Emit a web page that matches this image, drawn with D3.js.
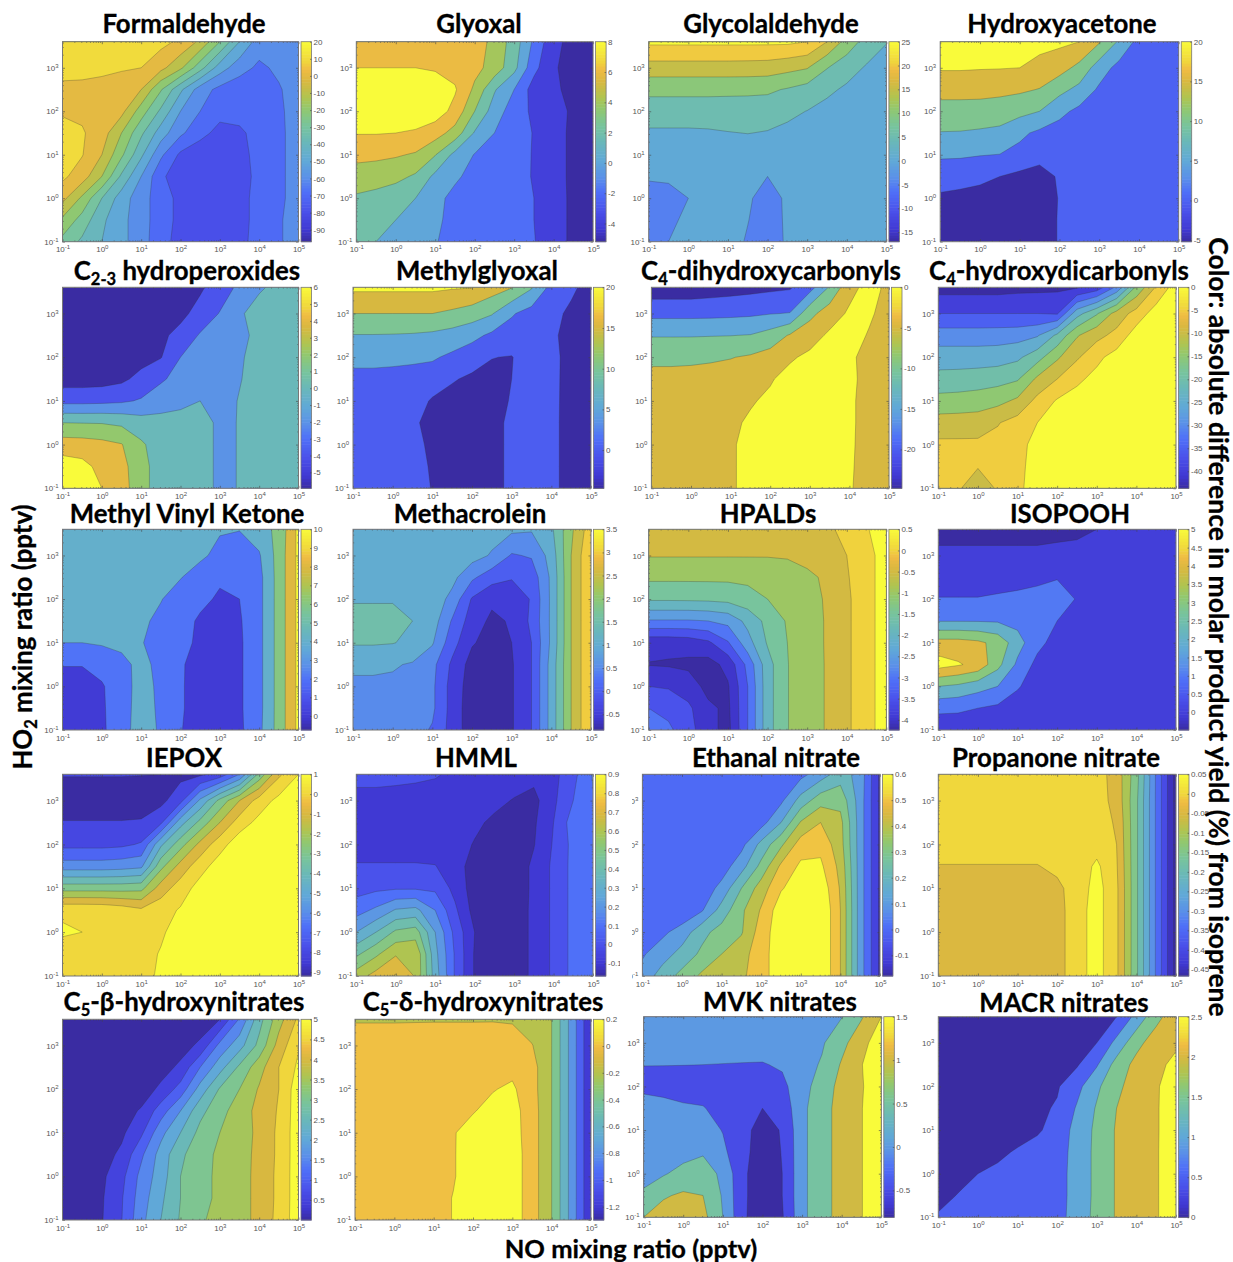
<!DOCTYPE html>
<html>
<head>
<meta charset="utf-8">
<script src="https://cdn.jsdelivr.net/npm/d3@7"></script>
<style>
  html, body { margin: 0; padding: 0; background: #fff; }
  svg { display: block; }
  text { font-family: "Liberation Sans", sans-serif; }
  .title, .big { font-family: Lato, "Open Sans", sans-serif; font-weight: 700; fill: #000; stroke: #000; stroke-width: .3; }
  .tick text { fill: #555; font-size: 8px; }
  .tick line { stroke: #444; stroke-width: .6; }
</style>
</head>
<body>
<script>
// log10 of NO (columns) and HO2 (rows, top row first) for every grid below
var noExp = [-1, -.5, 0, .5, 1, 1.5, 2, 2.5, 3, 3.5, 4, 4.5, 5];
var ho2Exp = [3.6, 3, 2.5, 2, 1.5, 1, .5, 0, -.5, -1];

var xTicks = [.1, 1, 10, 100, 1000, 10000, 100000];
var yTicks = [.1, 1, 10, 100, 1000];

var titles = ['Formaldehyde', 'Glyoxal', 'Glycolaldehyde', 'Hydroxyacetone',
  'C_{2-3} hydroperoxides', 'Methylglyoxal', 'C_{4}-dihydroxycarbonyls', 'C_{4}-hydroxydicarbonyls',
  'Methyl Vinyl Ketone', 'Methacrolein', 'HPALDs', 'ISOPOOH',
  'IEPOX', 'HMML', 'Ethanal nitrate', 'Propanone nitrate',
  'C_{5}-β-hydroxynitrates', 'C_{5}-δ-hydroxynitrates', 'MVK nitrates', 'MACR nitrates'];

// colour range of each panel
var colorMin = [-97, -5.2, -17, -5.2, -5.95, -4.7, -24.8, -43.7, -.75, -.84, -4.24, -.48, -9.2, -.167, -.18, -.467, 0, -1.3, -.81, 0];
var colorMax = [20, 8, 25, 20, 6, 20, 0, 0, 10, 3.5, .5, 5, 1, .9, .6, .05, 5, .2, 1.5, 2.5];

// contour levels of each panel
var levels = [
  [-80, -70, -60, -50, -40, -30, -20, -10, 0, 10],
  [-4, -2, 0, 2, 4, 6, 8],
  [-5, 0, 5, 10, 15, 20, 25],
  [0, 5, 10, 15, 20],
  [-4, -2, 0, 2, 4, 6],
  [0, 5, 10, 15, 20],
  [-20, -15, -10, -5, 0],
  [-40, -35, -30, -25, -20, -15, -10, -5, 0],
  [0, 2, 4, 6, 8, 10],
  [-.5, 0, .5, 1, 1.5, 2, 2.5, 3],
  [-4, -3.5, -3, -2.5, -2, -1.5, -1, -.5, 0, .5],
  [0, 1, 2, 3, 4, 5],
  [-8, -7, -6, -5, -4, -3, -2, -1, 0, 1],
  [-.1, 0, .1, .2, .3, .4, .5, .6, .7, .8],
  [-.1, 0, .1, .2, .3, .4, .5, .6],
  [-.45, -.4, -.35, -.3, -.25, -.2, -.15, -.1, -.05, 0, .05],
  [.5, 1, 1.5, 2, 2.5, 3, 3.5, 4, 4.5, 5],
  [-1.2, -1, -.8, -.6, -.4, -.2, 0, .2],
  [-.5, 0, .5, 1, 1.5],
  [.5, 1, 1.5, 2, 2.5]
];

// colorbar tick labels
var barTicks = [
  [20, 10, 0, -10, -20, -30, -40, -50, -60, -70, -80, -90],
  [8, 6, 4, 2, 0, -2, -4],
  [25, 20, 15, 10, 5, 0, -5, -10, -15],
  [20, 15, 10, 5, 0, -5],
  [6, 5, 4, 3, 2, 1, 0, -1, -2, -3, -4, -5],
  [20, 15, 10, 5, 0],
  [0, -5, -10, -15, -20],
  [0, -5, -10, -15, -20, -25, -30, -35, -40],
  [10, 9, 8, 7, 6, 5, 4, 3, 2, 1, 0],
  [3.5, 3, 2.5, 2, 1.5, 1, .5, 0, -.5],
  [.5, 0, -.5, -1, -1.5, -2, -2.5, -3, -3.5, -4],
  [5, 4.5, 4, 3.5, 3, 2.5, 2, 1.5, 1, .5, 0],
  [1, 0, -1, -2, -3, -4, -5, -6, -7, -8, -9],
  [.9, .8, .7, .6, .5, .4, .3, .2, .1, 0, -.1],
  [.6, .5, .4, .3, .2, .1, 0, -.1],
  [.05, 0, -.05, -.1, -.15, -.2, -.25, -.3, -.35, -.4, -.45],
  [5, 4.5, 4, 3.5, 3, 2.5, 2, 1.5, 1, .5],
  [.2, 0, -.2, -.4, -.6, -.8, -1, -1.2],
  [1.5, 1, .5, 0, -.5],
  [2.5, 2, 1.5, 1, .5, 0]
];

// product yield differences, one row per HO2 value, one column per NO value
var formaldehyde = [
  [16, 16, 15, 14, 13, 13, 8, -2, -20, -40, -55, -56, -55],
  [13, 12.5, 12, 11, 10, 3, -8, -26, -45, -56, -62, -58, -55],
  [8, 8, 7, 5, 0, -19, -38, -55, -63, -66, -66, -61, -55],
  [9, 8, 6, 3, -15, -32, -50, -60, -67, -68, -67, -62, -55],
  [13, 11, 5, -10, -28, -45, -58, -67, -73, -71, -68, -62, -56],
  [14, 10.5, 0, -18, -38, -58, -72, -76, -78, -72, -68, -62, -56],
  [12, 5, -10, -32, -50, -68, -76, -78, -79, -73, -68, -62, -56],
  [3, -12, -30, -45, -56, -65, -73, -77, -79, -72, -68, -62, -56],
  [-12, -24, -38, -47, -56, -65, -73, -77, -79, -72, -68, -61, -56],
  [-23, -32, -40, -47, -56, -66, -74, -77, -79, -71.5, -68, -61, -56]
];
var glyoxal = [
  [7, 7, 7, 7, 7, 7, 7, 5.4, 3.1, -.4, -3.5, -4.6, -5],
  [8, 8, 8, 8, 7.8, 7.3, 6.6, 5.2, 2.6, -1.4, -3.8, -4.7, -5],
  [9.5, 9.5, 9.5, 9.5, 9, 8.2, 5.6, 2.2, 0, -2.9, -3.7, -4.5, -5],
  [10, 10, 10, 10, 9, 7.4, 4, 1, -1, -2.4, -3.3, -4.3, -5],
  [8.1, 8.1, 8, 7.6, 6.9, 5.2, 1.8, 0, -1.1, -2.1, -3.3, -4.4, -5],
  [6.5, 6.4, 6.2, 5.8, 4.1, 1.4, -.1, -.9, -1.4, -2.1, -3.3, -4.4, -5],
  [5.2, 5, 4.6, 3.7, 1.5, .3, -.6, -1.1, -1.5, -2.1, -3.3, -4.4, -5],
  [3.7, 3.3, 2.7, 2, .5, -.5, -.9, -1.2, -1.5, -2, -3.2, -4.4, -5],
  [3, 2.6, 2, 1.2, .3, -.5, -.9, -1.2, -1.5, -2, -3.2, -4.4, -5],
  [2.8, 2, 1.5, .8, .1, -.6, -.9, -1.2, -1.5, -1.9, -3.2, -4.4, -5]
];
var glycolaldehyde = [
  [26, 26, 26, 26, 26, 26, 26, 26, 25, 20, 13, 8, 5.2],
  [17.9, 17.9, 17.9, 17.9, 17.9, 17.8, 17.6, 16.5, 15.3, 10.2, 7, 4.5, 3],
  [11, 11, 11, 11, 11, 11, 10.8, 9.6, 8, 6, 4.2, 3, 2],
  [8, 8, 8, 8, 7.8, 7.6, 7.4, 6, 4.9, 3.5, 2.7, 2.2, 2],
  [4.1, 4.1, 4.1, 4.3, 4.8, 5.1, 4.7, 4, 3.2, 2.6, 2.3, 2.1, 2],
  [2.2, 2.2, 2.2, 2.2, 2.2, 2.2, 2.2, 2.1, 2, 2, 2, 2, 2],
  [.4, .6, .9, 1.4, 1.4, .8, 0, .7, 1.4, 2, 2, 2, 2],
  [-1.5, -1.3, 0, 1, 1.2, .5, -1.5, .6, 1.4, 2, 2, 2, 2],
  [-2, -.8, .8, 1, 1.2, .1, -1.5, .5, 1.4, 2, 2, 2, 2],
  [-1.5, 0, .8, 1, 1.2, -.3, -1.5, .4, 1.4, 2, 2, 2, 2]
];
var hydroxyacetone = [
  [22, 22, 22, 22, 22, 21.5, 21, 20, 15.5, 9.3, 3.3, 2, 2],
  [20.5, 20.5, 20.3, 20.2, 20, 18.5, 17, 13.6, 7.5, 3.4, 2, 2, 2],
  [16.6, 16.6, 16.6, 16.3, 15.8, 14.8, 11.5, 8.6, 4.2, 2.6, 2, 2, 2],
  [13.2, 13.2, 13, 12.5, 11.5, 10, 6.3, 3.8, 2.5, 2, 2, 2, 2],
  [9.8, 9.7, 9.3, 8.8, 6, 4, 3, 2.3, 2, 2, 2, 2, 2],
  [5.7, 5.6, 5.2, 4.9, 3.6, 1.5, 1.5, 2, 2, 2, 2, 2, 2],
  [2.2, 2, 1.3, 0, -1.2, -1.7, .5, 2, 2, 2, 2, 2, 2],
  [-.8, -1.4, -2, -2.5, -3, -3, .3, 2, 2, 2, 2, 2, 2],
  [-3, -3.5, -3.8, -4, -4, -4, .6, 2, 2, 2, 2, 2, 2],
  [-3.5, -3.8, -4, -4, -4, -4, .6, 2, 2, 2, 2, 2, 2]
];
var hydroperoxides = [
  [-5.5, -5.5, -5.5, -5.5, -5.5, -5.5, -5.2, -4.3, -3, -1.6, -.2, .4, .5],
  [-5.5, -5.5, -5.5, -5.5, -5.5, -5, -4.5, -3.3, -1.9, -.2, .6, .6, .7],
  [-5.4, -5.4, -5.4, -5.3, -5, -4.4, -3.4, -1.8, -1, -.4, .4, .8, .8],
  [-5.3, -5.3, -5.2, -5, -4.7, -4.1, -2, -1.4, -.9, -.2, .6, .8, .8],
  [-4.9, -4.9, -4.8, -4.4, -3.4, -2.2, -1.5, -1.2, -.7, -.1, .7, .9, .9],
  [-2.6, -2.6, -2.5, -2.3, -1.8, -1.2, -.6, 0, -.7, .1, .9, 1, 1],
  [2, 1.95, 1.9, 1.6, .9, .9, .9, 1, -.5, .1, 1, 1, 1],
  [5, 4.9, 4.6, 4.1, 2.3, 1, 1, 1, -.5, .1, 1, 1, 1],
  [7, 6.6, 5.4, 4.6, 2.8, .9, 1, 1, -.5, .1, 1, 1, 1],
  [8, 7.2, 6, 4.8, 2.8, .9, 1, 1, -.5, .1, 1, 1, 1]
];
var methylglyoxal = [
  [21, 21, 21, 21, 21, 20.5, 20.2, 17.5, 15.3, 10.5, 3.5, 1, -2],
  [15, 15, 15, 15, 15, 14, 12.5, 10.4, 5.5, 3, 1.5, -1, -2],
  [9.8, 9.8, 9.7, 9.5, 9, 8, 6.5, 4, 2.8, 2.5, .8, -1.5, -2],
  [6.5, 6.5, 6.3, 6, 5.6, 4, 2, .1, -.2, 2.5, 1.2, -1.5, -2],
  [3.5, 3.5, 3.3, 3, 2.5, .4, -.8, -1, 0, 2.5, 1.2, -1.6, -2],
  [2.5, 2.5, 2.5, 2.2, -.5, -1.5, -2, -1.5, .3, 2.5, 1.2, -1.7, -2],
  [2.5, 2.5, 2.5, 1, -1.8, -2.5, -2.5, -1.5, 1, 2.5, 1.2, -1.8, -2],
  [2.5, 2.5, 2.5, 1.5, -1, -2.5, -2.5, -1.5, 1, 2.5, 1.2, -1.8, -2],
  [2.5, 2.5, 2.5, 1.8, -.5, -2.5, -2.5, -1.5, 1, 2.5, 1.2, -1.8, -2],
  [2.5, 2.5, 2.5, 2, -.2, -2.5, -2.5, -1.5, 1, 2.5, 1.2, -1.8, -2]
];
var dihydroxycarbonyls = [
  [-23, -23, -23, -22.5, -22, -21.5, -21, -20.5, -17, -9.5, -1.5, 1.6, -1],
  [-16.4, -16.4, -16.4, -16.3, -16.1, -15.8, -15.2, -14.8, -6.5, -2.3, .7, .9, -2.5],
  [-10.3, -10.3, -10.3, -10.2, -10.1, -9.8, -8, -4.5, -2, .8, 2.5, -.5, -2.5],
  [-6.5, -6.5, -6.2, -5.7, -5.2, -4.4, -3, -.6, 1, 2, .8, -1.5, -2.5],
  [-3, -3, -3, -3, -2.8, -2.2, -.4, 1.5, 2, 2, 1, -1.5, -2.5],
  [-3, -3, -3, -3, -1.5, -.4, .8, 1.5, 2, 2, .7, -1.5, -2.5],
  [-3, -3, -3, -3, -.8, .6, 1.5, 2, 2, 2, .7, -1.5, -2.5],
  [-3, -3, -3, -3, -.5, 1.2, 1.5, 2, 2, 2, .6, -1.5, -2.5],
  [-3, -3, -3, -3, -.5, 1.2, 1.5, 2, 2, 2, .5, -1.6, -2.5],
  [-3, -3, -3, -3, -.5, 1.2, 1.5, 2, 2, 2, .4, -1.8, -2.5]
];
var hydroxydicarbonyls = [
  [-42, -42, -42, -42, -41.5, -41.3, -41, -40.6, -38, -29, -14, -4.5, 2.5],
  [-35, -35, -35, -35, -35, -35, -35.5, -22, -15.5, -8, -3, 2.5, 5],
  [-27.5, -27.5, -27.5, -27.3, -27, -25.5, -19, -10.5, -6.5, -3.5, 2.5, 4, 5],
  [-22.5, -22.5, -22.5, -22.3, -21, -17, -10.8, -5.7, -1.2, 2, 3, 4, 5],
  [-18.2, -18, -17.5, -16.8, -15.5, -9, -5, -1, 1.5, 3, 3, 4, 5],
  [-13.3, -13, -12.5, -11.5, -9, -3.5, .5, 2, 3, 3, 3, 4, 5],
  [-7.8, -7.7, -7.5, -5.3, -3, 0, 1.5, 2, 3, 3, 3, 4, 5],
  [-4, -4, -4, -3.5, -1.5, 1.5, 2, 3, 3, 3, 3, 4, 5],
  [-3.5, -3.8, -4.8, -4, -1, 1.5, 2, 3, 3, 3, 3, 4, 5],
  [-3.2, -4.6, -7, -4.6, -.7, 1.5, 2, 3, 3, 3, 3, 4, 5]
];
var mvk = [
  [4.5, 4.5, 4.5, 4.5, 4.5, 4.5, 4.5, 4.5, 4.2, 4.05, 5, 6.6, 10.5],
  [4.5, 4.5, 4.5, 4.5, 4.5, 4.5, 4.5, 4.4, 3.4, 3.3, 3.8, 6.8, 10.5],
  [4.5, 4.5, 4.5, 4.5, 4.5, 4.5, 4.1, 3, 2.3, 2.5, 3.4, 6.8, 10.5],
  [4.5, 4.5, 4.5, 4.5, 4.5, 4.1, 3, 2.5, 1.7, 2, 3.4, 6.8, 10.5],
  [4.5, 4.5, 4.5, 4.5, 4.4, 3.5, 2.8, 1.7, 1.5, 1.8, 3.4, 6.8, 10.5],
  [4, 4, 4.2, 4.5, 4.1, 3.3, 2.6, 1.6, 1.4, 1.7, 3.4, 6.8, 10.5],
  [2.1, 2.1, 2.7, 3.4, 4.6, 3.4, 2.2, 1.3, 1.2, 1.7, 3.4, 6.8, 10.5],
  [1, 1, 1.8, 3.2, 4.7, 3.6, 2.2, 1.2, 1.1, 1.7, 3.4, 6.8, 10.5],
  [.8, .9, 1.7, 3.3, 4.7, 3.7, 2.2, 1.2, 1.1, 1.7, 3.4, 6.8, 10.5],
  [.7, .8, 1.6, 3.4, 4.7, 3.8, 2.1, 1.1, 1, 1.6, 3.5, 6.8, 10.5]
];
var methacrolein = [
  [1.2, 1.2, 1.2, 1.2, 1.2, 1.2, 1.2, 1.2, 1.1, 1.05, 1.4, 2.4, 3.3],
  [1.2, 1.2, 1.2, 1.2, 1.2, 1.2, 1.2, .95, .45, .55, 1.2, 2.5, 3.5],
  [1.2, 1.2, 1.2, 1.2, 1.2, 1.15, .6, .2, .05, .2, 1.1, 2.5, 3.5],
  [1.45, 1.45, 1.45, 1.4, 1.3, .85, -.05, -.4, -.4, .05, 1.1, 2.5, 3.5],
  [1.7, 1.7, 1.7, 1.5, 1.25, .45, -.25, -.6, -.45, .1, 1.1, 2.5, 3.5],
  [1.55, 1.55, 1.52, 1.4, 1.05, .2, -.45, -.7, -.5, 0, 1.1, 2.5, 3.5],
  [1.1, 1.1, 1.05, .95, .65, -.1, -.7, -.75, -.55, 0, 1.2, 2.5, 3.5],
  [.9, .9, .9, .85, .6, -.2, -.75, -.8, -.55, 0, 1.2, 2.5, 3.5],
  [.8, .8, .8, .8, .6, -.2, -.8, -.8, -.55, 0, 1.2, 2.5, 3.5],
  [.75, .75, .75, .7, .45, -.2, -.8, -.8, -.55, 0, 1.2, 2.5, 3.5]
];
var hpalds = [
  [-.3, -.3, -.3, -.3, -.3, -.3, -.3, -.3, -.3, -.1, .15, .45, .85],
  [-.47, -.47, -.47, -.47, -.47, -.47, -.47, -.45, -.35, -.2, 0, .35, .7],
  [-.9, -.9, -.9, -.9, -.9, -.88, -.85, -.75, -.6, -.42, -.05, .35, .7],
  [-1.43, -1.43, -1.42, -1.4, -1.35, -1.2, -1, -.8, -.6, -.47, -.1, .35, .7],
  [-2.55, -2.55, -2.55, -2.5, -2.35, -1.85, -1.35, -.95, -.65, -.47, -.1, .35, .7],
  [-3.85, -3.85, -3.8, -3.6, -3.05, -2.2, -1.45, -1, -.65, -.47, -.1, .35, .7],
  [-4.02, -4.05, -4.1, -4.2, -3.85, -2.85, -1.7, -1.02, -.68, -.47, -.1, .35, .7],
  [-3.5, -3.55, -3.75, -4.15, -4.05, -3, -1.7, -1.02, -.68, -.47, -.1, .35, .7],
  [-3, -3.15, -3.4, -3.9, -4.1, -3, -1.7, -1.02, -.68, -.47, -.1, .35, .7],
  [-2.6, -2.9, -3.3, -3.85, -4.15, -3, -1.7, -1.02, -.68, -.47, -.1, .35, .7]
];
var isopooh = [
  [-.4, -.4, -.4, -.4, -.4, -.4, -.3, -.2, 0, .2, .3, .3, .3],
  [.25, .25, .25, .25, .25, .25, .3, .3, .3, .3, .3, .3, .3],
  [.7, .7, .7, .7, .7, .8, .95, .9, .4, .3, .3, .3, .3],
  [1.03, 1.03, 1.03, 1.1, 1.2, 1.3, 1.4, .95, .4, .3, .3, .3, .3],
  [1.95, 1.95, 1.95, 1.9, 1.7, 1.4, 1, .5, .4, .3, .3, .3, .3],
  [4.4, 4.4, 4.2, 3.7, 2.4, 1.3, .6, .4, .3, .3, .3, .3, .3],
  [5.4, 5.1, 4.7, 3.3, 1.8, .7, .4, .3, .3, .3, .3, .3, .3],
  [3, 2.8, 2.4, 2, 1.1, .5, .3, .3, .3, .3, .3, .3, .3],
  [1.25, 1.2, 1, .8, .5, .3, .3, .3, .3, .3, .3, .3, .3],
  [.3, .3, .3, .3, .3, .3, .3, .3, .3, .3, .3, .3, .3]
];
var iepox = [
  [-7.95, -7.95, -7.95, -7.95, -7.97, -8, -8.3, -8.2, -7.6, -6, -2.7, -.2, 1],
  [-8.5, -8.5, -8.5, -8.5, -8.5, -8.3, -7.3, -4.8, -2.7, -1, .45, 1.3, 2],
  [-7.95, -7.95, -7.95, -7.95, -7.9, -7.2, -4.4, -2.7, -1, .5, 1.3, 2, 2],
  [-7.3, -7.3, -7.3, -7.2, -6.9, -4.2, -2.4, -.7, .6, 1.6, 2, 2, 2],
  [-5.5, -5.5, -5.5, -5.4, -5.2, -2.3, -.6, .6, 1.5, 2, 2, 2, 2],
  [-2.4, -2.4, -2.4, -2.4, -2.3, -.5, .5, 1.4, 2, 2, 2, 2, 2],
  [.9, .9, .85, .6, .2, .6, 1.1, 1.6, 2, 2, 2, 2, 2],
  [1.08, 1, .7, .6, .5, .8, 1.6, 2, 2, 2, 2, 2, 2],
  [.7, .7, .6, .6, .5, 1.1, 1.8, 2, 2, 2, 2, 2, 2],
  [.7, .7, .7, .7, .7, 1.15, 1.8, 2, 2, 2, 2, 2, 2]
];
var hmml = [
  [.04, .04, .03, .02, .01, -.02, -.04, -.05, -.06, -.07, -.03, .07, .21],
  [-.04, -.04, -.04, -.04, -.05, -.06, -.07, -.08, -.105, -.13, -.02, .1, .19],
  [-.06, -.06, -.06, -.06, -.06, -.06, -.085, -.115, -.14, -.115, 0, .15, .18],
  [-.05, -.05, -.05, -.05, -.06, -.07, -.105, -.14, -.16, -.105, .01, .13, .17],
  [.01, .01, .01, .01, .005, -.07, -.13, -.16, -.16, -.08, .02, .13, .17],
  [.06, .08, .09, .09, .08, -.03, -.15, -.16, -.16, -.08, .02, .13, .17],
  [.16, .22, .31, .33, .2, .02, -.14, -.15, -.15, -.08, .02, .13, .17],
  [.3, .4, .52, .55, .3, .07, -.1, -.15, -.15, -.08, .02, .13, .17],
  [.48, .58, .69, .69, .33, .09, -.11, -.15, -.15, -.08, .02, .13, .17],
  [.65, .74, .81, .69, .35, .09, -.11, -.15, -.15, -.08, .02, .13, .17]
];
var ethanalNitrate = [
  [.05, .05, .05, .05, .05, .05, .05, .06, .07, .15, .25, .16, -.12],
  [.02, .02, .02, .02, .02, .02, .03, .08, .24, .36, .37, .15, -.12],
  [.02, .02, .02, .02, .02, .02, .06, .2, .41, .5, .43, .15, -.12],
  [.01, .01, .01, .01, .02, .07, .23, .38, .55, .57, .44, .15, -.12],
  [.01, .01, .01, .01, .05, .16, .33, .52, .62, .62, .47, .15, -.12],
  [.01, .01, .02, .04, .13, .3, .45, .59, .66, .67, .49, .15, -.12],
  [.01, .02, .03, .09, .24, .38, .51, .66, .7, .7, .5, .15, -.12],
  [.02, .08, .14, .27, .34, .39, .55, .66, .7, .7, .5, .15, -.12],
  [.09, .15, .24, .32, .4, .46, .56, .66, .7, .7, .5, .15, -.12],
  [.13, .25, .33, .42, .45, .48, .56, .66, .7, .7, .5, .15, -.12]
];
var propanoneNitrate = [
  [.02, .02, .02, .02, .02, .02, .02, .02, .02, -.02, -.13, -.307, -.47],
  [.02, .02, .02, .02, .02, .02, .02, .02, .02, -.015, -.14, -.307, -.47],
  [.02, .02, .02, .02, .02, .02, .02, .02, .02, -.005, -.14, -.307, -.47],
  [.02, .02, .02, .02, .02, .02, .02, .02, .03, 0, -.14, -.307, -.47],
  [-.002, -.002, -.002, -.002, -.002, -.002, .01, .02, .06, .005, -.14, -.307, -.47],
  [-.03, -.03, -.03, -.03, -.03, -.03, -.01, .02, .07, .01, -.14, -.307, -.47],
  [-.03, -.03, -.03, -.03, -.03, -.03, -.02, .03, .07, .01, -.14, -.307, -.47],
  [-.03, -.03, -.03, -.03, -.03, -.03, -.02, .03, .07, .01, -.14, -.307, -.47],
  [-.03, -.03, -.03, -.03, -.03, -.03, -.02, .03, .07, .01, -.14, -.307, -.47],
  [-.03, -.03, -.03, -.03, -.03, -.03, -.02, .03, .07, .01, -.14, -.307, -.47]
];
var betaNitrates = [
  [.2, .2, .2, .2, .2, .2, .2, .2, .5, 1.55, 2.8, 3.8, 4.6],
  [.2, .2, .2, .2, .2, .2, .3, .6, 1.65, 2.3, 3.15, 4.2, 4.95],
  [.2, .2, .2, .2, .2, .3, .6, 1.5, 2.3, 3.1, 3.8, 4.5, 5.1],
  [.2, .2, .2, .2, .25, .6, 1.2, 2.2, 3.05, 3.5, 4.05, 4.5, 5.3],
  [.2, .2, .2, .3, .55, 1.25, 2, 2.85, 3.33, 3.75, 4.15, 4.55, 5.3],
  [.2, .2, .25, .4, .9, 1.85, 2.5, 3.15, 3.5, 3.75, 4.12, 4.6, 5.3],
  [.2, .2, .3, .6, 1.4, 2.2, 2.9, 3.3, 3.6, 3.8, 4.13, 4.6, 5.3],
  [.2, .2, .4, .85, 1.65, 2.25, 3, 3.35, 3.6, 3.8, 4.15, 4.62, 5.3],
  [.2, .2, .45, .95, 1.75, 2.4, 3, 3.35, 3.6, 3.8, 4.15, 4.62, 5.3],
  [.2, .2, .47, .98, 1.85, 2.5, 3.05, 3.45, 3.62, 3.8, 4.15, 4.65, 5.3]
];
var deltaNitrates = [
  [-.01, -.01, -.01, -.01, -.01, -.01, -.01, -.01, -.02, -.12, -.2, -.67, -1.19],
  [.06, .06, .06, .07, .08, .08, .08, .09, .09, .01, -.2, -.67, -1.19],
  [.1, .1, .1, .1, .1, .1, .12, .14, .15, .08, -.2, -.67, -1.19],
  [.11, .11, .12, .12, .12, .12, .14, .19, .23, .08, -.2, -.67, -1.19],
  [.12, .12, .13, .13, .14, .15, .19, .25, .27, .1, -.2, -.67, -1.19],
  [.12, .12, .13, .13, .15, .19, .26, .28, .28, .1, -.2, -.67, -1.19],
  [.12, .12, .13, .14, .16, .19, .27, .28, .3, .1, -.2, -.67, -1.19],
  [.12, .12, .13, .14, .16, .19, .27, .28, .3, .1, -.2, -.67, -1.19],
  [.12, .12, .13, .14, .15, .205, .27, .28, .3, .1, -.2, -.67, -1.19],
  [.12, .12, .13, .14, .15, .205, .27, .28, .3, .1, -.2, -.67, -1.19]
];
var mvkNitrates = [
  [.3, .3, .3, .3, .3, .3, .3, .3, .3, .3, .48, .95, 1.5],
  [.2, .2, .2, .2, .2, .2, .22, .25, .3, .44, .85, 1.33, 1.8],
  [.005, .005, .005, 0, -.01, -.02, -.03, .06, .3, .55, 1.05, 1.48, 1.9],
  [-.08, -.1, -.15, -.15, -.15, -.15, -.15, -.12, .3, .75, 1.15, 1.45, 1.9],
  [.15, .1, .05, .02, -.12, -.25, -.5, -.3, .35, .9, 1.1, 1.48, 1.9],
  [.2, .2, .2, .2, -.02, -.3, -.75, -.45, .35, .9, 1.1, 1.48, 1.9],
  [.2, .2, .3, .45, .1, -.35, -.75, -.48, .35, .9, 1.1, 1.48, 1.9],
  [.3, .45, .68, .72, .4, -.4, -.8, -.5, .35, .9, 1.1, 1.48, 1.9],
  [.6, .95, 1.07, 1, .45, -.4, -.8, -.5, .35, .9, 1.1, 1.48, 1.9],
  [1, 1.2, 1.25, 1.15, .5, -.4, -.85, -.55, .35, .9, 1.1, 1.48, 1.9]
];
var macrNitrates = [
  [.2, .2, .2, .2, .2, .2, .2, .2, .25, .5, 1.15, 1.85, 2.3],
  [.2, .2, .2, .2, .2, .2, .2, .25, .5, 1.15, 1.85, 2.25, 2.4],
  [.2, .2, .2, .2, .2, .2, .3, .45, .95, 1.7, 2.15, 2.35, 2.65],
  [.2, .2, .2, .2, .2, .25, .45, .85, 1.4, 1.9, 2.2, 2.45, 2.75],
  [.2, .2, .2, .2, .3, .4, .55, 1.05, 1.55, 2, 2.2, 2.45, 2.8],
  [.2, .2, .2, .25, .3, .45, .65, 1.2, 1.6, 2.05, 2.2, 2.45, 2.8],
  [.2, .2, .25, .4, .55, .65, .7, 1.25, 1.6, 2.05, 2.2, 2.45, 2.85],
  [.2, .35, .5, .6, .65, .7, .75, 1.25, 1.6, 2.05, 2.2, 2.45, 2.85],
  [.35, .52, .6, .65, .65, .7, .75, 1.25, 1.6, 2.05, 2.2, 2.45, 2.85],
  [.55, .6, .6, .65, .65, .7, .75, 1.3, 1.6, 2.05, 2.2, 2.45, 2.85]
];
var grids = [formaldehyde, glyoxal, glycolaldehyde, hydroxyacetone, hydroperoxides, methylglyoxal,
  dihydroxycarbonyls, hydroxydicarbonyls, mvk, methacrolein, hpalds, isopooh, iepox, hmml,
  ethanalNitrate, propanoneNitrate, betaNitrates, deltaNitrates, mvkNitrates, macrNitrates];

// layout: plot box left/right, plot top/bottom, title centre and baseline
var boxLeft = [62.5, 356.3, 648.7, 940.2, 62.5, 353, 651.4, 938.3, 62.5, 353, 648.7, 938.3, 62.5, 356.3, 642.4, 938.3, 62.5, 355, 643.6, 938.3];
var boxRight = [298.5, 593.1, 886.4, 1178.7, 298.5, 591, 889, 1176, 298.5, 591, 886.4, 1176, 298.5, 593, 880, 1176, 298.5, 591, 881.3, 1176];
var boxTop = [41.7, 41.7, 41.7, 41.7, 287.3, 287.3, 287.3, 287.3, 529.3, 529.3, 529.3, 529.3, 774.3, 774.3, 774.3, 774.3, 1019.3, 1019.3, 1016.7, 1016.7];
var boxBottom = [241.7, 241.7, 241.7, 241.7, 488.3, 488.3, 488.3, 488.3, 730, 730, 730, 730, 976, 976, 976, 976, 1220, 1220, 1217.3, 1217.3];
var titleX = [184, 479, 771, 1062, 187, 477, 771, 1059, 187, 470, 768, 1070, 184, 476, 776, 1056, 184, 483, 780, 1064];
var titleY = [33, 33, 33, 33, 280, 280, 280, 280, 523, 523, 523, 523, 767, 767, 767, 767, 1011, 1011, 1011, 1012];

// parula as it looks in the figure
var cmapStops = [0, .06, .15, .25, .32, .4, .5, .58, .66, .72, .8, .86, .9, 1];
var cmapColors = ['#3a2ca2', '#4038d2', '#4a50ea', '#4f70f8', '#5a90e8', '#60a8d8', '#6ab8b8', '#78c49c', '#90c870', '#b0c450', '#d8b840', '#f0bc44', '#f0d63c', '#f9fb3a'];
var cmap = d3.scaleLinear().domain(cmapStops).range(cmapColors).interpolate(d3.interpolateRgb).clamp(true);

var svg = d3.select('body').append('svg').attr('width', 1233).attr('height', 1262);

var minorX = d3.scaleLog().domain([.1, 1e5]).ticks().filter(function (v) { return xTicks.indexOf(v) < 0; });
var minorY = d3.scaleLog().domain([.1, Math.pow(10, 3.6)]).ticks().filter(function (v) { return yTicks.indexOf(v) < 0; });

function powerLabels(sel) {
  sel.selectAll('.tick text').each(function (d) {
    var t = d3.select(this).text(null);
    t.append('tspan').text('10');
    t.append('tspan').attr('font-size', 6).attr('dy', -3).text(Math.round(Math.log10(d)));
  });
}

function drawTitle(i) {
  var t = svg.append('text').attr('class', 'title').attr('text-anchor', 'middle')
    .attr('x', titleX[i]).attr('y', titleY[i]).attr('font-size', 25.8);
  var dy = 0;
  titles[i].split(/(_\{[^}]*\})/).forEach(function (part) {
    if (part.indexOf('_{') === 0) {
      t.append('tspan').attr('font-size', 16.5).attr('dy', 5).text(part.slice(2, -1));
      dy = -5;
    } else if (part) {
      t.append('tspan').attr('dy', dy).text(part);
      dy = 0;
    }
  });
}

grids.forEach(function (grid, i) {
  var l = boxLeft[i], r = boxRight[i], top = boxTop[i], bot = boxBottom[i];
  var x = d3.scaleLog().domain([.1, 1e5]).range([l, r]);
  var y = d3.scaleLog().domain([.1, Math.pow(10, 3.6)]).range([bot, top]);

  // grid index -> log10 value; d3.contours puts cell i at i + .5
  var colExp = d3.scaleLinear().domain(noExp.map(function (d, k) { return k + .5; })).range(noExp);
  var rowExp = d3.scaleLinear().domain(ho2Exp.map(function (d, k) { return k + .5; })).range(ho2Exp);
  var path = d3.geoPath(d3.geoTransform({
    point: function (px, py) {
      this.stream.point(x(Math.pow(10, colExp(px))), y(Math.pow(10, rowExp(py))));
    }
  }));

  var color = function (v) { return cmap((v - colorMin[i]) / (colorMax[i] - colorMin[i])); };

  var clipId = 'clip' + i;
  svg.append('clipPath').attr('id', clipId).append('rect')
    .attr('x', l).attr('y', top).attr('width', r - l).attr('height', bot - top);

  var g = svg.append('g').attr('clip-path', 'url(#' + clipId + ')');
  g.append('rect').attr('x', l).attr('y', top).attr('width', r - l).attr('height', bot - top)
    .attr('fill', cmap(0));

  var contours = d3.contours().size([noExp.length, ho2Exp.length]).smooth(true)
    .thresholds(levels[i])(d3.merge(grid));
  g.selectAll('path').data(contours).enter().append('path')
    .attr('d', path)
    .attr('fill', function (d) { return color(d.value); })
    .attr('stroke', '#333').attr('stroke-opacity', .55).attr('stroke-width', .5);

  // axes
  var bottom = svg.append('g').attr('transform', 'translate(0,' + bot + ')')
    .call(d3.axisBottom(x).tickValues(xTicks).tickSizeInner(-2.5).tickSizeOuter(0).tickPadding(5).tickFormat(String));
  bottom.call(powerLabels);
  bottom.select('.domain').remove();
  var left = svg.append('g').attr('transform', 'translate(' + l + ',0)')
    .call(d3.axisLeft(y).tickValues(yTicks).tickSizeInner(-2.5).tickSizeOuter(0).tickPadding(4).tickFormat(String));
  left.call(powerLabels);
  left.select('.domain').remove();

  // unlabelled ticks on all four sides
  [[d3.axisBottom(x).tickValues(minorX).tickSizeInner(-1.2), bot],
   [d3.axisTop(x).tickValues(minorX).tickSizeInner(-1.2), top],
   [d3.axisTop(x).tickValues(xTicks).tickSizeInner(-2.5), top]].forEach(function (a) {
    var ag = svg.append('g').attr('transform', 'translate(0,' + a[1] + ')').call(a[0].tickSizeOuter(0));
    ag.select('.domain').remove();
    ag.selectAll('text').remove();
  });
  [[d3.axisLeft(y).tickValues(minorY).tickSizeInner(-1.2), l],
   [d3.axisRight(y).tickValues(minorY).tickSizeInner(-1.2), r],
   [d3.axisRight(y).tickValues(yTicks).tickSizeInner(-2.5), r]].forEach(function (a) {
    var ag = svg.append('g').attr('transform', 'translate(' + a[1] + ',0)').call(a[0].tickSizeOuter(0));
    ag.select('.domain').remove();
    ag.selectAll('text').remove();
  });

  svg.append('rect').attr('x', l).attr('y', top).attr('width', r - l).attr('height', bot - top)
    .attr('fill', 'none').attr('stroke', '#777').attr('stroke-width', 1);

  // colorbar
  var barL = r + 2.5, barW = 10.5;
  var barY = d3.scaleLinear().domain([colorMin[i], colorMax[i]]).range([bot, top]);
  var steps = d3.range(0, 64);
  svg.append('g').selectAll('rect').data(steps).enter().append('rect')
    .attr('x', barL).attr('width', barW)
    .attr('y', function (k) { return top + (bot - top) * k / 64; })
    .attr('height', (bot - top) / 64 + .5)
    .attr('fill', function (k) { return cmap(1 - (k + .5) / 64); });
  svg.append('rect').attr('x', barL).attr('y', top).attr('width', barW).attr('height', bot - top)
    .attr('fill', 'none').attr('stroke', '#777').attr('stroke-width', .8);
  var barAxis = svg.append('g').attr('transform', 'translate(' + (barL + barW) + ',0)')
    .call(d3.axisRight(barY).tickValues(barTicks[i]).tickSizeInner(-1.5).tickSizeOuter(0).tickPadding(2).tickFormat(String));
  barAxis.select('.domain').remove();
});

// the Ethanal nitrate image sits over its neighbour in the figure and cuts some labels
svg.append('rect').attr('x', 620).attr('y', 770).attr('width', 12).attr('height', 215).attr('fill', '#fff');

grids.forEach(function (grid, i) { drawTitle(i); });

svg.append('text').attr('class', 'big').attr('text-anchor', 'middle').attr('font-size', 25.8)
  .attr('transform', 'translate(32,637) rotate(-90)')
  .call(function (t) {
    t.append('tspan').text('HO');
    t.append('tspan').attr('font-size', 16.5).attr('dy', 5).text('2');
    t.append('tspan').attr('dy', -5).text(' mixing ratio (pptv)');
  });
svg.append('text').attr('class', 'big').attr('text-anchor', 'middle').attr('font-size', 26.5)
  .attr('transform', 'translate(1209,627) rotate(90)')
  .text('Color: absolute difference in molar product yield (%) from isoprene');
svg.append('text').attr('class', 'big').attr('text-anchor', 'middle').attr('font-size', 25.5)
  .attr('x', 631).attr('y', 1258).text('NO mixing ratio (pptv)');
</script>
</body>
</html>
